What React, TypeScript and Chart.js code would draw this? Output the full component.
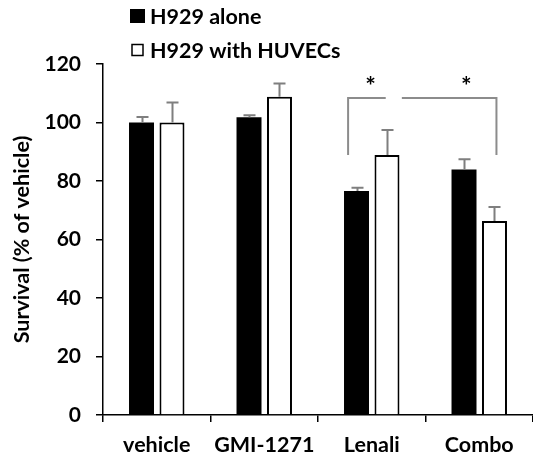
import React, { useEffect, useRef } from "react";
import { Chart, registerables } from "chart.js";
Chart.register(...registerables);

const categories = ["vehicle", "GMI-1271", "Lenali", "Combo"];
const seriesNames = ["H929 alone", "H929 with HUVECs"];
const aloneValues = [100, 101.8, 76.6, 83.9];
const aloneErrors = [1.9, 0.7, 1.1, 3.5];
const huvecValues = [100, 108.8, 88.9, 66.3];
const huvecErrors = [6.8, 4.5, 8.5, 4.8];
const yMin = 0;
const yMax = 120;
const yStep = 20;
const yTitle = "Survival (% of vehicle)";
// significance brackets: polylines in (category index, value) units
const sigLines: number[][][] = [
  [[1.78, 88.9], [1.78, 108.4], [2.13, 108.4]],
  [[2.28, 108.4], [3.16, 108.4], [3.16, 88.9]],
];
const sigStars: number[][] = [[1.99, 114.2], [2.88, 114.2]];
const sigLabel = "*";

const FONT = "Lato, 'Open Sans', sans-serif";

const overlayPlugin = {
  id: "overlay",
  afterDatasetsDraw(chart: any) {
    const ctx = chart.ctx;
    const xs = chart.scales.x;
    const ys = chart.scales.y;
    const errs = [aloneErrors, huvecErrors];
    ctx.save();
    // error bars
    ctx.strokeStyle = "#7f7f7f";
    ctx.lineWidth = 2;
    chart.data.datasets.forEach((ds: any, di: number) => {
      const meta = chart.getDatasetMeta(di);
      meta.data.forEach((bar: any, i: number) => {
        const v = ds.data[i];
        const top = ys.getPixelForValue(v + errs[di][i]);
        const x = Math.round(bar.x) + 0.5;
        ctx.beginPath();
        ctx.moveTo(x, bar.y);
        ctx.lineTo(x, top);
        ctx.moveTo(x - 6, top);
        ctx.lineTo(x + 6, top);
        ctx.stroke();
      });
    });
    // brackets
    ctx.strokeStyle = "#8c8c8c";
    ctx.lineWidth = 2;
    sigLines.forEach((pl) => {
      ctx.beginPath();
      pl.forEach((p, k) => {
        const px = xs.getPixelForValue(p[0]);
        const py = ys.getPixelForValue(p[1]);
        if (k === 0) ctx.moveTo(px, py);
        else ctx.lineTo(px, py);
      });
      ctx.stroke();
    });
    // stars
    ctx.fillStyle = "#000";
    ctx.font = `bold 25px ${FONT}`;
    ctx.textAlign = "center";
    ctx.textBaseline = "alphabetic";
    sigStars.forEach((s) => {
      const px = xs.getPixelForValue(s[0]);
      const py = ys.getPixelForValue(s[1]);
      const m = ctx.measureText(sigLabel);
      const off = (m.actualBoundingBoxAscent - m.actualBoundingBoxDescent) / 2;
      ctx.fillText(sigLabel, px, py + off);
    });
    // legend
    const lx = chart.chartArea.left + 27;
    const rows = [16, 50];
    ctx.font = `bold 21.5px ${FONT}`;
    ctx.textAlign = "left";
    ctx.textBaseline = "middle";
    chart.data.datasets.forEach((ds: any, di: number) => {
      const cy = rows[di];
      if (di === 0) {
        ctx.fillStyle = "#000";
        ctx.fillRect(lx, cy - 7, 15, 14);
      } else {
        ctx.strokeStyle = "#000";
        ctx.lineWidth = 1.5;
        ctx.strokeRect(lx + 2, cy - 5.5, 11, 11);
      }
      ctx.fillStyle = "#000";
      ctx.fillText(seriesNames[di], lx + 20, cy + 1);
    });
    ctx.restore();
  },
};

export default function App() {
  const ref = useRef<HTMLCanvasElement | null>(null);
  useEffect(() => {
    if (!ref.current) return;
    const chart = new Chart(ref.current, {
      type: "bar",
      data: {
        labels: categories,
        datasets: [
          {
            label: seriesNames[0],
            data: aloneValues,
            backgroundColor: "#000",
            borderColor: "#000",
            borderWidth: 0,
            barPercentage: 0.82,
            categoryPercentage: 0.567,
          },
          {
            label: seriesNames[1],
            data: huvecValues,
            backgroundColor: "#fff",
            borderColor: "#000",
            borderWidth: 2,
            barPercentage: 0.82,
            categoryPercentage: 0.567,
          },
        ],
      },
      options: {
        animation: false,
        responsive: false,
        devicePixelRatio: 1,
        layout: { padding: { top: 64, right: 0, left: 0, bottom: 0 } },
        plugins: { legend: { display: false }, tooltip: { enabled: false } },
        scales: {
          x: {
            type: "category",
            offset: true,
            grid: {
              offset: true,
              drawOnChartArea: false,
              drawTicks: true,
              tickLength: 7,
              color: "#000",
              lineWidth: 1.5,
            },
            border: { color: "#000", width: 1.5 },
            ticks: {
              color: "#000",
              padding: 10,
              autoSkip: false,
              maxRotation: 0,
              minRotation: 0,
              font: { family: FONT, size: 21.5, weight: "bold" },
            },
            afterFit: (s: any) => {
              s.height = 46;
            },
          },
          y: {
            min: yMin,
            max: yMax,
            grid: {
              drawOnChartArea: false,
              drawTicks: true,
              tickLength: 7,
              color: "#000",
              lineWidth: 1.5,
            },
            border: { color: "#000", width: 1.5 },
            ticks: {
              stepSize: yStep,
              color: "#000",
              padding: 15,
              font: { family: FONT, size: 21, weight: "bold" },
            },
            title: {
              display: true,
              text: yTitle,
              color: "#000",
              padding: { top: 9, bottom: 0 },
              font: { family: FONT, size: 21.5, weight: "bold" },
            },
            afterFit: (s: any) => {
              s.width = 103;
            },
          },
        },
      },
      plugins: [overlayPlugin],
    } as any);
    return () => chart.destroy();
  }, []);
  return (
    <div style={{ position: "absolute", left: 0, top: 0, width: 533, height: 461, background: "#fff" }}>
      <canvas ref={ref} width={533} height={461} style={{ display: "block" }} />
    </div>
  );
}
